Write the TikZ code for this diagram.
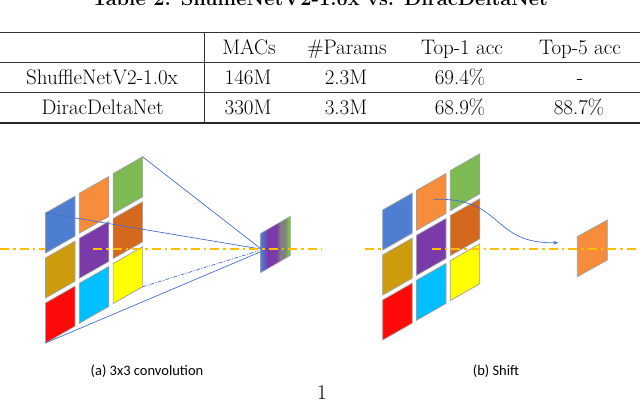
\documentclass[tikz,border=0pt]{standalone}
\usepackage{fontspec}
\newfontfamily\capfont{Carlito}
\usetikzlibrary{arrows.meta}
\definecolor{cblue}{RGB}{78,126,210}
\definecolor{corange}{RGB}{247,140,60}
\definecolor{cgreen}{RGB}{125,186,84}
\definecolor{cgold}{RGB}{204,156,14}
\definecolor{cpurple}{RGB}{122,58,168}
\definecolor{cdorange}{RGB}{212,104,30}
\definecolor{cred}{RGB}{255,10,10}
\definecolor{ccyan}{RGB}{0,190,255}
\definecolor{cyellow}{RGB}{255,255,0}
\definecolor{cdash}{RGB}{255,190,0}
\definecolor{cline}{RGB}{70,110,200}
\definecolor{cgray}{RGB}{128,128,128}
\pgfdeclarehorizontalshading{outgrad}{100bp}{color(0bp)=(cblue); color(25bp)=(cblue); color(30bp)=(cblue!60!cpurple); color(37bp)=(cpurple); color(51bp)=(cpurple); color(58bp)=(cgray); color(65bp)=(cgray); color(71bp)=(cgreen); color(100bp)=(cgreen)}
\tikzset{
  tbl/.style={font=\fontsize{21}{25}\selectfont, anchor=base, inner sep=0pt},
  cellb/.style={draw=gray!75, line width=0.7pt},
  conn/.style={draw=cline, line width=0.7pt},
  axisline/.style={draw=cdash, line width=1.8pt, dash pattern=on 9pt off 4pt on 2.5pt off 4pt},
  capf/.style={font=\capfont\fontsize{14.5}{17}\selectfont, inner sep=0pt}
}
\begin{document}
\begin{tikzpicture}[x=1pt,y=-1pt]
\useasboundingbox (0,0) rectangle (640,407);
% ---------- table ----------
\node[font=\bfseries\fontsize{20}{24}\selectfont, anchor=base, inner sep=0pt] (title) at (320,5.5) {Table 2: ShuffleNetV2-1.0x vs. DiracDeltaNet};
\draw[line width=1.2pt, black!80] (0,32.5) -- (640,32.5);
\draw[line width=0.9pt, black!80] (0,62.5) -- (640,62.5);
\draw[line width=0.9pt, black!80] (0,92.7) -- (640,92.7);
\draw[line width=1.8pt, black!85] (0,122.7) -- (640,122.7);
\draw[line width=0.9pt, black!80] (204,32.5) -- (204,122.7);
\node[tbl] (hm) at (249,54) {MACs};
\node[tbl] (hp) at (347,54) {\#Params};
\node[tbl] (h1) at (462,54) {Top-1 acc};
\node[tbl] (h5) at (580,54) {Top-5 acc};
\node[tbl] (r1) at (102,84) {ShuffleNetV2-1.0x};
\node[tbl] (r1m) at (248,84) {146M};
\node[tbl] (r1p) at (346,84) {2.3M};
\node[tbl] (r11) at (460,84) {69.4\%};
\node[tbl] (r15) at (580,84) {-};
\node[tbl] (r2) at (102.5,114) {DiracDeltaNet};
\node[tbl] (r2m) at (248,114) {330M};
\node[tbl] (r2p) at (346,114) {3.3M};
\node[tbl] (r21) at (460,114) {68.9\%};
\node[tbl] (r25) at (579,114) {88.7\%};
% ---------- (a) 3x3 convolution ----------
\draw[axisline] (0,249.3) -- (45.5,249.3);
\foreach \c/\r/\col in {0/0/cblue,1/0/corange,2/0/cgreen,0/1/cgold,1/1/cpurple,2/1/cdorange,0/2/cred,1/2/ccyan,2/2/cyellow}
  \draw[cellb, fill=\col] ({45.5+33.8*\c},{213-19.7*\c+45*\r}) -- ++(29.5,-16.8) -- ++(0,40) -- ++(-29.5,16.8) -- cycle;
\coordinate (blueTL) at (45.5,213);
\coordinate (greenTR) at (142.6,156.8);
\coordinate (yellowBR) at (142.6,286.8);
\coordinate (redBL) at (45.5,343);
\shade[shading=outgrad] (260.7,233.3) -- ++(30,-17.3) -- ++(0,39.4) -- ++(-30,17.3) -- cycle;
\draw[draw=gray!60, line width=0.5pt] (260.7,233.3) -- ++(30,-17.3) -- ++(0,39.4) -- ++(-30,17.3) -- cycle;
\coordinate (conv) at (260.5,250);
\draw[conn] (greenTR) -- ([yshift=1.5pt]conv);
\draw[conn] (blueTL) -- ([yshift=1pt]conv);
\draw[conn, dash pattern=on 4pt off 1.5pt on 1pt off 1.5pt] (yellowBR) -- ([xshift=-2pt,yshift=-0.8pt]conv);
\draw[conn] (redBL) -- ([yshift=-1.8pt]conv);
\draw[axisline] (93,249.3) -- (322,249.3);
\node[capf] (capa) at (147,371.5) {(a) 3x3 convolution};
% ---------- (b) Shift ----------
\draw[axisline] (365,249.3) -- (382.7,249.3);
\foreach \c/\r/\col in {0/0/cblue,1/0/corange,2/0/cgreen,0/1/cgold,1/1/cpurple,2/1/cdorange,0/2/cred,1/2/ccyan,2/2/cyellow}
  \draw[cellb, fill=\col] ({382.7+33.8*\c},{210-19.7*\c+45*\r}) -- ++(29.5,-16.8) -- ++(0,40) -- ++(-29.5,16.8) -- cycle;
\draw[cellb, fill=corange] (577.3,236.7) -- ++(30,-16.7) -- ++(0,40) -- ++(-30,16.7) -- cycle;
\coordinate (src) at (433.3,199.3);
\coordinate (dst) at (558.3,242.7);
\draw[conn, -{Stealth[length=5pt,width=4pt]}] (src) .. controls (505,197) and (490,244) .. (dst);
\draw[axisline] (431.7,249.3) -- (636,249.3);
\node[capf] (capb) at (496,371.5) {(b) Shift};
% page number
\node[font=\fontsize{21}{25}\selectfont, anchor=base, inner sep=0pt] (pg) at (322,399) {1};
\end{tikzpicture}
\end{document}
